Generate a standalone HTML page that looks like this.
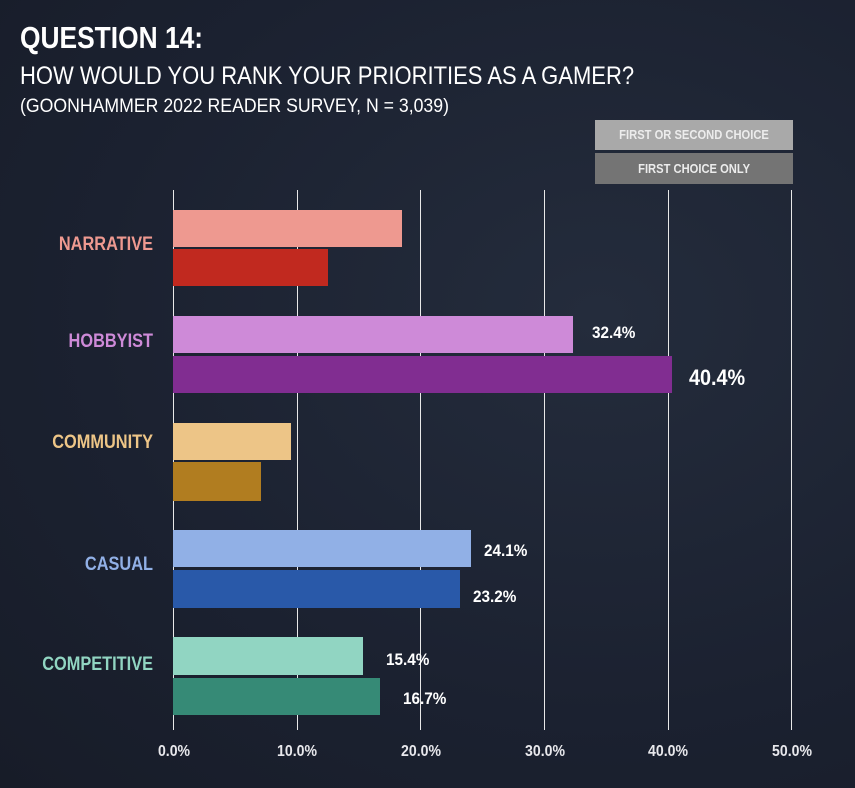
<!DOCTYPE html>
<html><head><meta charset="utf-8"><style>
body{margin:0;width:855px;height:788px;overflow:hidden;background:radial-gradient(ellipse at 70% 40%,#242c3c 0%,#1b2130 60%,#171c28 100%);font-family:"Liberation Sans",sans-serif;color:#fff;position:relative}
.a{position:absolute;white-space:nowrap;transform-origin:0 0}
.g{position:absolute;top:190px;height:540px;width:1px;background:#e8e8e8}
.b{position:absolute;height:37px}
.l{position:absolute;font-weight:bold;font-size:19px;text-align:right;width:153px;left:0;transform:scaleX(0.86);transform-origin:153px 0}
.v{position:absolute;font-weight:bold;font-size:17px;transform:scaleX(0.9);transform-origin:0 0}
.t{position:absolute;top:743px;font-weight:bold;font-size:16px;width:60px;text-align:center;color:#e8e8ec;transform:scaleX(0.88)}
.lg{position:absolute;left:595px;width:198px;color:#ececec;font-size:13px;font-weight:bold;text-align:center}
.lg span{display:inline-block;transform:scaleX(0.86)}
</style></head><body>
<div class="a" style="left:20px;top:20px;font-size:31px;font-weight:bold;transform:scaleX(0.85)">QUESTION 14:</div>
<div class="a" style="left:20px;top:62px;font-size:25px;transform:scaleX(0.88)">HOW WOULD YOU RANK YOUR PRIORITIES AS A GAMER?</div>
<div class="a" style="left:20px;top:96px;font-size:19px;transform:scaleX(0.93)">(GOONHAMMER 2022 READER SURVEY, N = 3,039)</div>
<div class="lg" style="top:120px;height:30px;background:#a9a9a9;line-height:30px"><span>FIRST OR SECOND CHOICE</span></div>
<div class="lg" style="top:153px;height:31px;background:#747474;line-height:31px"><span>FIRST CHOICE ONLY</span></div>
<div class="g" style="left:173px"></div><div class="g" style="left:297px"></div><div class="g" style="left:420px"></div><div class="g" style="left:544px"></div><div class="g" style="left:668px"></div><div class="g" style="left:791px"></div>
<div class="b" style="left:173px;top:210px;width:229px;background:#ee9990"></div>
<div class="b" style="left:173px;top:249px;width:155px;background:#c1291f"></div>
<div class="b" style="left:173px;top:316px;width:400px;background:#ce8ad8"></div>
<div class="b" style="left:173px;top:356px;width:499px;background:#812d91"></div>
<div class="b" style="left:173px;top:423px;width:118px;background:#edc587"></div>
<div class="b" style="left:173px;top:462px;width:88px;height:39px;background:#b17d20"></div>
<div class="b" style="left:173px;top:530px;width:298px;background:#91b0e6"></div>
<div class="b" style="left:173px;top:570px;width:287px;height:38px;background:#2959a9"></div>
<div class="b" style="left:173px;top:637px;width:190px;height:38px;background:#91d5c2"></div>
<div class="b" style="left:173px;top:678px;width:207px;background:#368a76"></div>
<div class="l" style="top:234px;color:#ee9990">NARRATIVE</div>
<div class="l" style="top:331px;color:#ce8ad8">HOBBYIST</div>
<div class="l" style="top:432px;color:#edc587">COMMUNITY</div>
<div class="l" style="top:554px;color:#91b0e6">CASUAL</div>
<div class="l" style="top:654px;color:#91d5c2">COMPETITIVE</div>
<div class="v" style="left:592px;top:323px">32.4%</div>
<div class="v" style="left:689px;top:365px;font-size:22px">40.4%</div>
<div class="v" style="left:484px;top:541px">24.1%</div>
<div class="v" style="left:473px;top:587px">23.2%</div>
<div class="v" style="left:386px;top:650px">15.4%</div>
<div class="v" style="left:403px;top:689px">16.7%</div>
<div class="t" style="left:144px">0.0%</div><div class="t" style="left:267px">10.0%</div><div class="t" style="left:391px">20.0%</div><div class="t" style="left:515px">30.0%</div><div class="t" style="left:638px">40.0%</div><div class="t" style="left:762px">50.0%</div>
</body></html>
